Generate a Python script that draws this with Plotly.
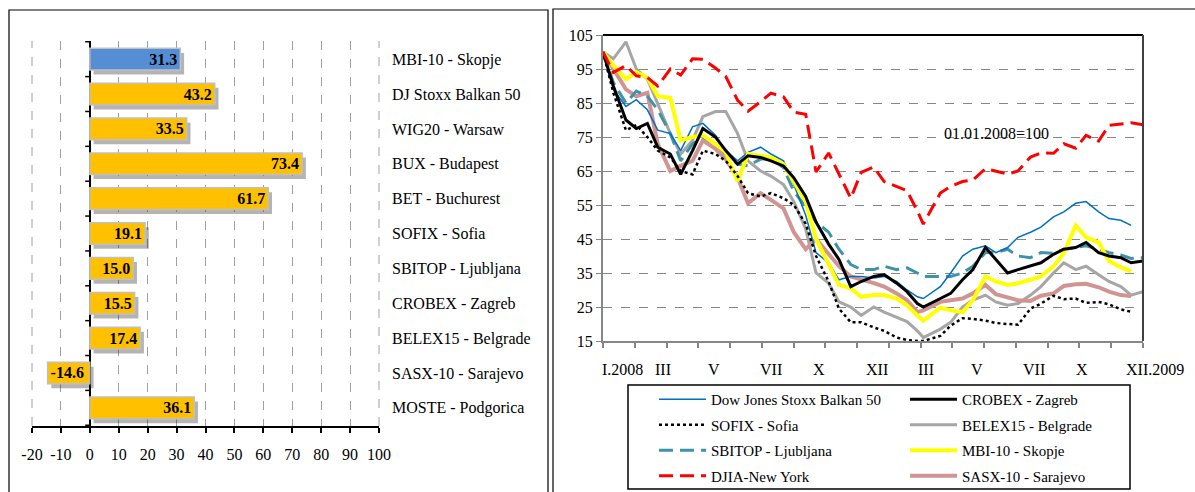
import plotly.graph_objects as go
import pandas as pd

# ---------------- data: left panel ----------------
bar_categories = ["MBI-10 - Skopje", "DJ Stoxx Balkan 50", "WIG20 - Warsaw", "BUX - Budapest",
                  "BET - Buchurest", "SOFIX - Sofia", "SBITOP - Ljubljana", "CROBEX - Zagreb",
                  "BELEX15 - Belgrade", "SASX-10 - Sarajevo", "MOSTE - Podgorica"]
bar_values = [31.3, 43.2, 33.5, 73.4, 61.7, 19.1, 15.0, 15.5, 17.4, -14.6, 36.1]
bar_colors = ["#558ED5"] + ["#FFC000"] * 10
bar_ticks = list(range(-20, 101, 10))

# ---------------- data: right panel (01.01.2008 = 100) ----------------
dates = ["2008-01-01", "2008-01-15", "2008-02-01", "2008-02-15", "2008-03-01", "2008-03-15",
         "2008-04-01", "2008-04-15", "2008-05-01", "2008-05-15", "2008-06-01", "2008-06-15",
         "2008-07-01", "2008-07-15", "2008-08-01", "2008-08-15", "2008-09-01", "2008-09-15",
         "2008-10-01", "2008-10-15", "2008-11-01", "2008-11-15", "2008-12-01", "2008-12-15",
         "2009-01-01", "2009-01-15", "2009-02-01", "2009-02-15", "2009-03-01", "2009-03-09",
         "2009-04-01", "2009-04-15", "2009-05-01", "2009-05-15", "2009-06-01", "2009-06-15",
         "2009-07-01", "2009-07-15", "2009-08-01", "2009-08-15", "2009-09-01", "2009-09-15",
         "2009-10-01", "2009-10-15", "2009-11-01", "2009-11-15", "2009-12-01", "2009-12-15",
         "2009-12-31"]

balkan50 = [100, 89, 84, 86, 83, 77, 76, 71, 78, 79, 75.5, 71, 68, 70.5, 72, 70, 68, 61, 52, 41,
            38, 33, 34, 34, 33.5, 34, 32.5, 30, 28, 27.5, 31, 35, 40, 42, 43, 41, 42.5, 45.5, 47,
            48.5, 51.5, 53, 55.5, 56, 53, 51, 50.5, 49, None]
crobex = [100, 90, 80, 77.5, 79, 72, 70, 64, 71, 77.5, 75, 71, 67, 69.5, 69, 68, 66.5, 63, 57.5,
          50, 43.5, 39, 31, 32.5, 34, 34.5, 32, 29.5, 26, 25, 27.5, 29, 33, 36, 42.5, 39, 35, 36,
          37, 38, 40.5, 42, 42.5, 44, 41, 40, 39.5, 38, 38.5]
sofix = [100, 88, 77, 78.5, 75, 71, 69, 65, 64, 71, 70, 68, 63.5, 58.5, 57.5, 58.5, 57, 55, 49.5,
         40, 32.5, 24.5, 20.5, 20.5, 19, 18, 16, 15.3, 15, 15, 16.5, 19.5, 21.7, 21.5, 21, 20.3,
         20, 19.8, 24.5, 26, 28.3, 27.3, 27.5, 26.2, 26.5, 25.8, 24.3, 23.6, None]
belex15 = [100, 98, 103, 95, 92, 85, 76, 70, 74, 81, 82.5, 82.5, 76, 68, 65, 63.5, 61, 56, 48,
           35, 32, 26.5, 25, 22.5, 25, 23.5, 22, 20.7, 18, 16, 18.5, 20.5, 25, 27, 28.5, 26.5,
           25.5, 26, 28.5, 31, 35, 38, 36, 37, 34.5, 32.5, 31, 28.5, 29.5]
sbitop = [100, 91, 85, 88.5, 87, 83, 76, 68, 73, 75, 73, 70, 67, 66.5, 68.5, 68.5, 66, 59, 54.5,
          50, 47, 42, 37.5, 36, 36, 37, 36, 36.5, 35, 34, 34, 34, 35, 37, 41, 41, 42, 40, 39.5,
          41, 40.8, 42, 42.5, 43, 42, 41, 40.3, 39.3, 39.5]
mbi10 = [100, 96, 92, 94, 92.5, 87, 86.5, 74, 75, 75.5, 73, 70.5, 62, 70, 69.5, 69, 67, 62, 56,
         45, 37.5, 31.5, 30.5, 28, 28.5, 28.5, 27.5, 25.5, 22.5, 21, 24.8, 24, 23.5, 27, 34, 32.5,
         31.5, 32, 33, 34, 37, 40.8, 49, 45.5, 44, 38.5, 36.7, 35.5, None]
djia = [100, 94, 96, 93, 92.5, 90, 95, 93.2, 98, 97.9, 95.3, 92.8, 85.8, 82.6, 85.4, 87.9, 86.8,
        82.3, 81.7, 64.7, 70.3, 64, 57, 64.6, 66.2, 61.9, 60.3, 59.2, 53.2, 49.4, 58.5, 60.5, 61.9,
        62.3, 65.7, 65, 64.1, 65, 69.1, 70.3, 70.2, 73, 71.7, 75.5, 73.8, 78.4, 78.9, 79.2, 78.6]
sasx10 = [100, 95, 89, 87, 88, 73, 65, 66.5, 68, 74, 71.5, 68.5, 63, 55.5, 58.5, 56.5, 54, 47, 42,
          45, 40.5, 37, 34, 33.2, 32, 31, 29, 27, 23.5, 24, 26.5, 27, 27.5, 29, 31.5, 28.8, 28, 27,
          26.8, 28.3, 29, 31.2, 31.7, 31.8, 30.8, 29.5, 28.5, 28.2, None]

y_ticks = list(range(15, 106, 10))
month_labels = ["I.2008", "III", "V", "VII", "X", "XII", "III", "V", "VII", "X", "XII.2009"]
month_label_pos = [0.037, 0.111, 0.206, 0.311, 0.400, 0.507, 0.598, 0.693, 0.798, 0.887, 1.022]

FONT = "Liberation Serif"
W, H = 1195, 492


def px_x(p):
    return p / W


def px_y(p):
    return (H - p) / H


fig = go.Figure()

# ---------- left panel: bars (shadow + bars) ----------
fig.add_trace(go.Bar(
    x=bar_values, y=bar_categories, orientation="h", xaxis="x", yaxis="y",
    marker=dict(color="rgba(40,40,40,0.35)", line=dict(width=0)),
    width=0.62, offset=-0.31 + 0.13, hoverinfo="skip", showlegend=False))
fig.add_trace(go.Bar(
    x=bar_values, y=bar_categories, orientation="h", xaxis="x3", yaxis="y",
    marker=dict(color=bar_colors, line=dict(color="#C0C0C0", width=1.5)),
    width=0.62, offset=-0.31,
    text=[f"<b>{v:.1f}</b>" for v in bar_values], textposition="inside",
    insidetextanchor="end", constraintext="none",
    textfont=dict(family=FONT, size=16, color="black"),
    showlegend=False))

# ---------- right panel: lines ----------
series = [
    (belex15, "BELEX15 - Belgrade", dict(color="#A6A6A6", width=3), "legend2", 2),
    (sasx10, "SASX-10 - Sarajevo", dict(color="#D09593", width=4), "legend2", 4),
    (sbitop, "SBITOP - Ljubljana", dict(color="#3E93A9", width=3, dash="14px,7px"), "legend", 3),
    (balkan50, "Dow Jones Stoxx Balkan 50", dict(color="#0070C0", width=1.5), "legend", 1),
    (mbi10, "MBI-10 - Skopje", dict(color="#FFFF00", width=4), "legend2", 3),
    (crobex, "CROBEX - Zagreb", dict(color="#000000", width=3), "legend2", 1),
    (sofix, "SOFIX - Sofia", dict(color="#000000", width=2.5, dash="dot"), "legend", 2),
    (djia, "DJIA-New York", dict(color="#FF0000", width=3, dash="14px,7px"), "legend", 4),
]
for vals, name, line, leg, rank in series:
    fig.add_trace(go.Scatter(
        x=dates, y=vals, name=name, mode="lines", line=line,
        xaxis="x2", yaxis="y2", legend=leg, legendrank=rank, legendgroup=name))

# x tick marks every 1/17 of the span (category-style ticks as in the original)
start = pd.Timestamp("2008-01-01")
span = (pd.Timestamp("2009-12-31") - start).days
tick_dates = [(start + pd.Timedelta(days=i * span / 17)).strftime("%Y-%m-%d %H:%M") for i in range(18)]

left_dom = [px_x(32), px_x(379)]
left_ydom = [px_y(426), px_y(41)]
right_dom = [px_x(603), px_x(1143)]
right_ydom = [px_y(341), px_y(35)]

fig.update_layout(
    width=W, height=H, margin=dict(l=0, r=0, t=0, b=0, pad=0, autoexpand=False),
    paper_bgcolor="white", plot_bgcolor="white",
    font=dict(family=FONT, size=16, color="black"),
    xaxis=dict(domain=left_dom, anchor="y", range=[-20 - 1.3, 100 - 1.3], visible=False,
               automargin=False),
    xaxis3=dict(overlaying="x", anchor="y", range=[-20, 100], tickvals=bar_ticks,
                ticktext=[str(t) for t in bar_ticks], automargin=False,
                showgrid=True, gridcolor="#A0A0A0", griddash="dash", gridwidth=1,
                zeroline=True, zerolinecolor="black", zerolinewidth=2,
                showline=True, linecolor="black", linewidth=2,
                ticks="outside", ticklen=5, tickwidth=1.5, tickcolor="black",
                ticklabelstandoff=8, tickfont=dict(family=FONT, size=16)),
    yaxis=dict(domain=left_ydom, anchor="x", side="right", autorange="reversed",
               type="category", showgrid=False, showline=False, zeroline=False,
               automargin=False, ticks="", ticklabelstandoff=12,
               tickfont=dict(family=FONT, size=16)),
    xaxis2=dict(domain=right_dom, anchor="y2", type="date", automargin=False,
                range=["2008-01-01", "2009-12-31"], tickvals=tick_dates,
                showticklabels=False, showgrid=False, zeroline=False,
                showline=True, linecolor="#868686", linewidth=2,
                ticks="outside", ticklen=5, tickwidth=1.5, tickcolor="#868686"),
    yaxis2=dict(domain=right_ydom, anchor="x2", range=[15, 105], tickvals=y_ticks,
                automargin=False,
                showgrid=True, gridcolor="#868686", griddash="dash", gridwidth=1,
                zeroline=False, showline=True, linecolor="#868686", linewidth=2,
                ticks="outside", ticklen=5, tickcolor="#868686",
                tickfont=dict(family=FONT, size=16)),
    legend=dict(x=px_x(654), y=px_y(383), xanchor="left", yanchor="top",
                bgcolor="rgba(0,0,0,0)", borderwidth=0, itemwidth=47,
                tracegroupgap=3, font=dict(family=FONT, size=15)),
    legend2=dict(x=px_x(905), y=px_y(383), xanchor="left", yanchor="top",
                 bgcolor="rgba(0,0,0,0)", borderwidth=0, itemwidth=47,
                 tracegroupgap=3, font=dict(family=FONT, size=15)),
)

shapes = [
    # panel frames
    dict(type="rect", xref="paper", yref="paper", x0=px_x(9), x1=px_x(548), y0=-0.05, y1=px_y(10),
         line=dict(color="black", width=1.2)),
    dict(type="rect", xref="paper", yref="paper", x0=px_x(553), x1=1.05, y0=-0.05, y1=px_y(9),
         line=dict(color="black", width=1.2)),
    # dashed grid lines at the two ends of the bar axis
    dict(type="line", xref="x3 domain", yref="y domain", x0=0, x1=0, y0=0, y1=1,
         line=dict(color="#A0A0A0", width=1, dash="dash"), layer="below"),
    dict(type="line", xref="x3 domain", yref="y domain", x0=1, x1=1, y0=0, y1=1,
         line=dict(color="#A0A0A0", width=1, dash="dash"), layer="below"),
    # plot area top/right border of the line chart
    dict(type="line", xref="x2 domain", yref="y2 domain", x0=0, x1=1, y0=1, y1=1,
         line=dict(color="black", width=2)),
    dict(type="line", xref="x2 domain", yref="y2 domain", x0=1, x1=1, y0=0, y1=1,
         line=dict(color="#404040", width=2)),
    # legend frame
    dict(type="rect", xref="paper", yref="paper", x0=px_x(628), x1=px_x(1130), y0=px_y(489),
         y1=px_y(385), line=dict(color="black", width=1.5)),
]
# small ticks on the zero axis between categories
for i in range(len(bar_categories) + 1):
    shapes.append(dict(type="line", xref="x3", yref="y", x0=-1.6, x1=0, y0=i - 0.5, y1=i - 0.5,
                       line=dict(color="black", width=1.5)))
fig.update_layout(shapes=shapes)

annotations = [dict(text="01.01.2008=100", xref="paper", yref="paper", x=px_x(996), y=px_y(133),
                    showarrow=False, font=dict(family=FONT, size=16), xanchor="center",
                    yanchor="middle")]
for lab, pos in zip(month_labels, month_label_pos):
    annotations.append(dict(text=lab, xref="x2 domain", yref="paper", x=pos, y=px_y(369),
                            showarrow=False, xanchor="center", yanchor="middle",
                            font=dict(family=FONT, size=16)))
fig.update_layout(annotations=annotations)

fig.write_html("out.html", config={"displayModeBar": False},
               post_script="document.body.style.margin='0';")
